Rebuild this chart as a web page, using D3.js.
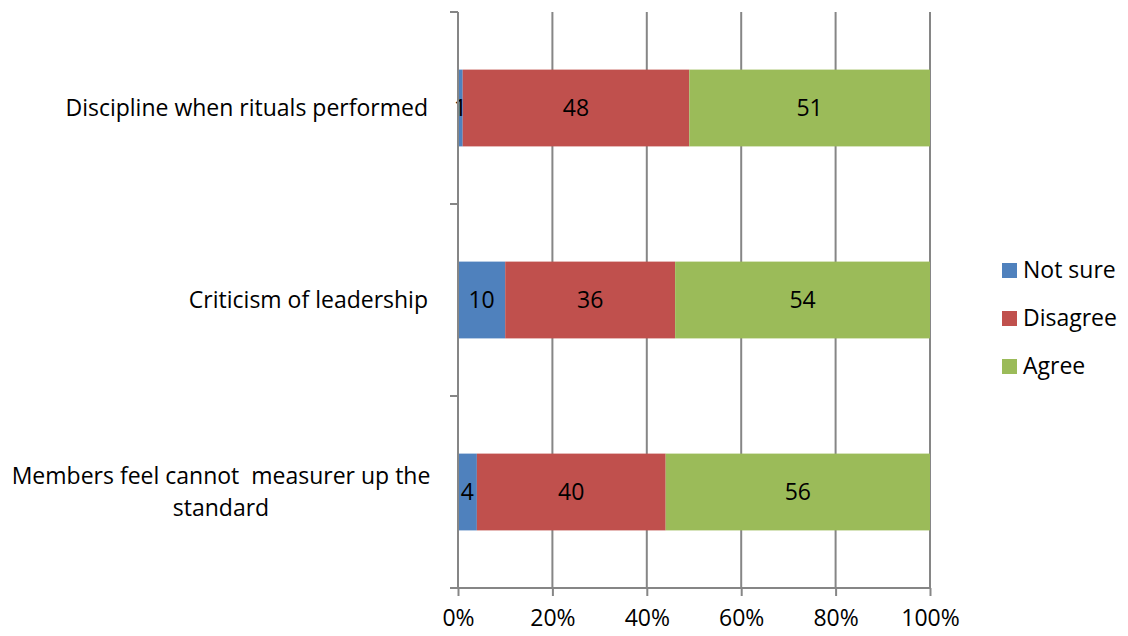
<!DOCTYPE html>
<html>
<head>
<meta charset="utf-8">
<script src="https://cdn.jsdelivr.net/npm/d3@7"></script>
<style>
  body { margin: 0; background: #fff; }
  text { font-family: "Open Sans", Lato, sans-serif; fill: #000; }
</style>
</head>
<body>
<div id="chart"></div>
<script>
var svgWidth = 1128;
var svgHeight = 636;

var margin = { top: 12, right: 198, bottom: 48, left: 458 };
var width = svgWidth - margin.left - margin.right;
var height = svgHeight - margin.top - margin.bottom;
var fontSize = "23px";

// data, top to bottom
var categories = [
  ["Discipline when rituals performed"],
  ["Criticism of leadership"],
  ["Members feel cannot  measurer up the", "standard"]
];
var seriesNames = ["Not sure", "Disagree", "Agree"];
var notSure = [1, 10, 4];
var disagree = [48, 36, 40];
var agree = [51, 54, 56];
var tickValues = [0, 0.2, 0.4, 0.6, 0.8, 1];
var colors = ["#4F81BD", "#C0504D", "#9BBB59"];

var rows = categories.map(function(c, i) {
  return { key: i, label: c, "Not sure": notSure[i], "Disagree": disagree[i], "Agree": agree[i] };
});

var svg = d3.select("#chart").append("svg")
  .attr("width", svgWidth)
  .attr("height", svgHeight);

var chartGroup = svg.append("g")
  .attr("transform", `translate(${margin.left}, ${margin.top})`);

var x = d3.scaleLinear().domain([0, 1]).range([0, width]);
var y = d3.scaleBand().domain(rows.map(d => d.key)).range([0, height])
  .paddingInner(0.6).paddingOuter(0.3);

// gridlines
chartGroup.selectAll(".grid")
  .data(tickValues.slice(1))
  .enter()
  .append("line")
  .attr("x1", d => x(d)).attr("x2", d => x(d))
  .attr("y1", 0).attr("y2", height)
  .attr("stroke", "#868686")
  .attr("stroke-width", 2);

// stacked bars
var stack = d3.stack().keys(seriesNames).offset(d3.stackOffsetExpand);
var layers = stack(rows);

var layerGroups = chartGroup.selectAll(".layer")
  .data(layers)
  .enter()
  .append("g")
  .attr("fill", (d, i) => colors[i]);

layerGroups.selectAll("rect")
  .data(d => d)
  .enter()
  .append("rect")
  .attr("x", d => x(d[0]))
  .attr("y", d => y(d.data.key))
  .attr("width", d => x(d[1]) - x(d[0]))
  .attr("height", y.bandwidth());

// value labels
layers.forEach(function(layer) {
  chartGroup.selectAll(".lbl-" + layer.index)
    .data(layer)
    .enter()
    .append("text")
    .attr("x", d => (x(d[0]) + x(d[1])) / 2)
    .attr("y", d => y(d.data.key) + y.bandwidth() / 2)
    .attr("dy", "0.36em")
    .attr("text-anchor", "middle")
    .style("font-size", fontSize)
    .text(d => d.data[layer.key]);
});

// x axis
var bottomAxis = d3.axisBottom(x).tickValues(tickValues).tickFormat(d3.format(".0%"))
  .tickSizeInner(8).tickSizeOuter(0).tickPadding(14);
var xAxis = chartGroup.append("g")
  .attr("transform", `translate(0, ${height})`)
  .call(bottomAxis);
xAxis.select(".domain").attr("stroke", "#868686").attr("stroke-width", 2)
  .attr("d", `M-8,0H${width}`);
xAxis.selectAll(".tick line").attr("stroke", "#868686").attr("stroke-width", 2);
xAxis.selectAll(".tick text").style("font-size", fontSize).attr("fill", "#000");

// y axis line and ticks between categories
chartGroup.append("line")
  .attr("x1", 0).attr("x2", 0).attr("y1", 0).attr("y2", height)
  .attr("stroke", "#868686").attr("stroke-width", 2);
var boundaries = [0].concat(rows.map(d => y(d.key) + y.bandwidth() / 2 + y.step() / 2));
chartGroup.selectAll(".ytick")
  .data(boundaries)
  .enter()
  .append("line")
  .attr("x1", -8).attr("x2", 0)
  .attr("y1", d => d).attr("y2", d => d)
  .attr("stroke", "#868686").attr("stroke-width", 2);

// category labels
var catLabels = chartGroup.selectAll(".cat")
  .data(rows)
  .enter()
  .append("text")
  .attr("text-anchor", d => d.label.length > 1 ? "middle" : "end")
  .attr("transform", function(d) {
    var cy = y(d.key) + y.bandwidth() / 2;
    if (d.label.length > 1) return `translate(-237, ${cy - 16})`;
    return `translate(-30, ${cy})`;
  })
  .style("font-size", fontSize)
  .style("white-space", "pre");

catLabels.selectAll("tspan")
  .data(d => d.label)
  .enter()
  .append("tspan")
  .attr("x", 0)
  .attr("dy", (d, i) => i === 0 ? "0.36em" : "32px")
  .text(d => d);

// legend
var legend = svg.append("g")
  .attr("transform", "translate(1002, 270)");
var legendItems = legend.selectAll("g")
  .data(seriesNames)
  .enter()
  .append("g")
  .attr("transform", (d, i) => `translate(0, ${i * 48})`);
legendItems.append("rect")
  .attr("x", 0).attr("y", -7)
  .attr("width", 15).attr("height", 15)
  .attr("fill", (d, i) => colors[i]);
legendItems.append("text")
  .attr("x", 21).attr("dy", "0.36em")
  .style("font-size", fontSize)
  .text(d => d);
</script>
</body>
</html>
